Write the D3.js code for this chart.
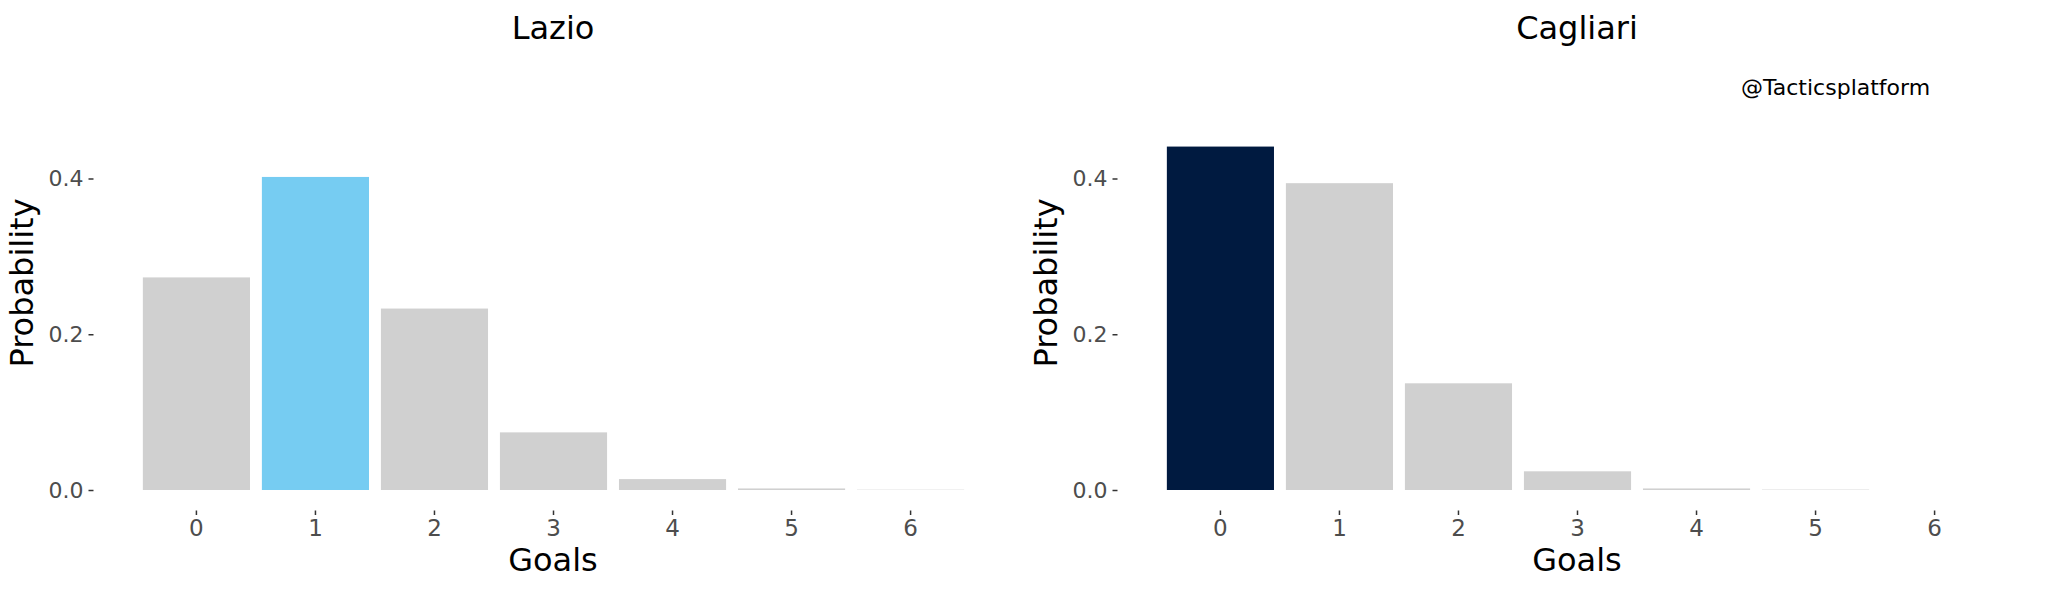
<!DOCTYPE html>
<html>
<head>
<meta charset="utf-8">
<script src="https://cdn.jsdelivr.net/npm/d3@7"></script>
<style>
  html, body { margin: 0; padding: 0; background: #ffffff; }
  svg { display: block; }
  text { font-family: "DejaVu Sans", sans-serif; }
</style>
</head>
<body>
<svg id="chart" width="2048" height="589"></svg>
<script>
// ---- data ----
const goals = [0, 1, 2, 3, 4, 5, 6];
const teams = ["Lazio", "Cagliari"];
const lazioProb = [0.273, 0.402, 0.233, 0.074, 0.014, 0.002, 0.0004];
const cagliariProb = [0.441, 0.394, 0.137, 0.024, 0.002, 0.0005, 0.0];
const lazioMode = 1;
const cagliariMode = 0;
const yTicks = [0.0, 0.2, 0.4];
const watermark = "@Tacticsplatform";

const panels = [
  { name: teams[0], values: lazioProb, mode: lazioMode, hi: "#76ccf2", offset: 0 },
  { name: teams[1], values: cagliariProb, mode: cagliariMode, hi: "#001a40", offset: 1024 }
];

const svg = d3.select("#chart");

const x = d3.scaleBand().domain(goals).range([125, 982]).paddingInner(0.1).paddingOuter(0.15);
const y = d3.scaleLinear().domain([0, 0.4]).range([490, 178.5]);

panels.forEach(p => {
  const g = svg.append("g").attr("transform", `translate(${p.offset},0)`);

  // title
  g.append("text")
    .attr("x", 553).attr("y", 39)
    .attr("text-anchor", "middle")
    .attr("font-size", 32)
    .attr("fill", "#000")
    .text(p.name);

  // bars
  g.selectAll("rect.bar")
    .data(goals.map((gl, i) => ({ gl, v: p.values[i] })))
    .join("rect")
    .attr("class", "bar")
    .attr("x", d => x(d.gl))
    .attr("width", x.bandwidth())
    .attr("y", d => y(d.v))
    .attr("height", d => y(0) - y(d.v))
    .attr("fill", d => d.gl === p.mode ? p.hi : "#d0d0d0");

  // y axis
  const ya = g.append("g")
    .attr("transform", "translate(93.5,0)")
    .call(d3.axisLeft(y).tickValues(yTicks).tickFormat(d3.format(".1f")).tickSize(5).tickPadding(5));
  ya.select(".domain").remove();
  ya.selectAll(".tick line").attr("stroke", "#333").attr("stroke-width", 1.5);
  ya.selectAll(".tick text").attr("font-size", 22).attr("fill", "#4d4d4d")
    .attr("font-family", "DejaVu Sans, sans-serif");

  // x axis
  const xa = g.append("g")
    .attr("transform", "translate(0,510.5)")
    .call(d3.axisBottom(x).tickSize(4.5).tickPadding(5));
  xa.select(".domain").remove();
  xa.selectAll(".tick line").attr("stroke", "#333").attr("stroke-width", 1.5);
  xa.selectAll(".tick text").attr("font-size", 23).attr("fill", "#4d4d4d")
    .attr("font-family", "DejaVu Sans, sans-serif");

  // axis titles
  g.append("text")
    .attr("x", 553).attr("y", 570.5)
    .attr("text-anchor", "middle")
    .attr("font-size", 32)
    .attr("fill", "#000")
    .text("Goals");

  g.append("text")
    .attr("transform", "translate(33,283) rotate(-90)")
    .attr("text-anchor", "middle")
    .attr("font-size", 32)
    .attr("fill", "#000")
    .text("Probability");
});

// watermark
svg.append("text")
  .attr("x", 1741).attr("y", 95)
  .attr("font-size", 22)
  .attr("fill", "#000")
  .text(watermark);
</script>
</body>
</html>
